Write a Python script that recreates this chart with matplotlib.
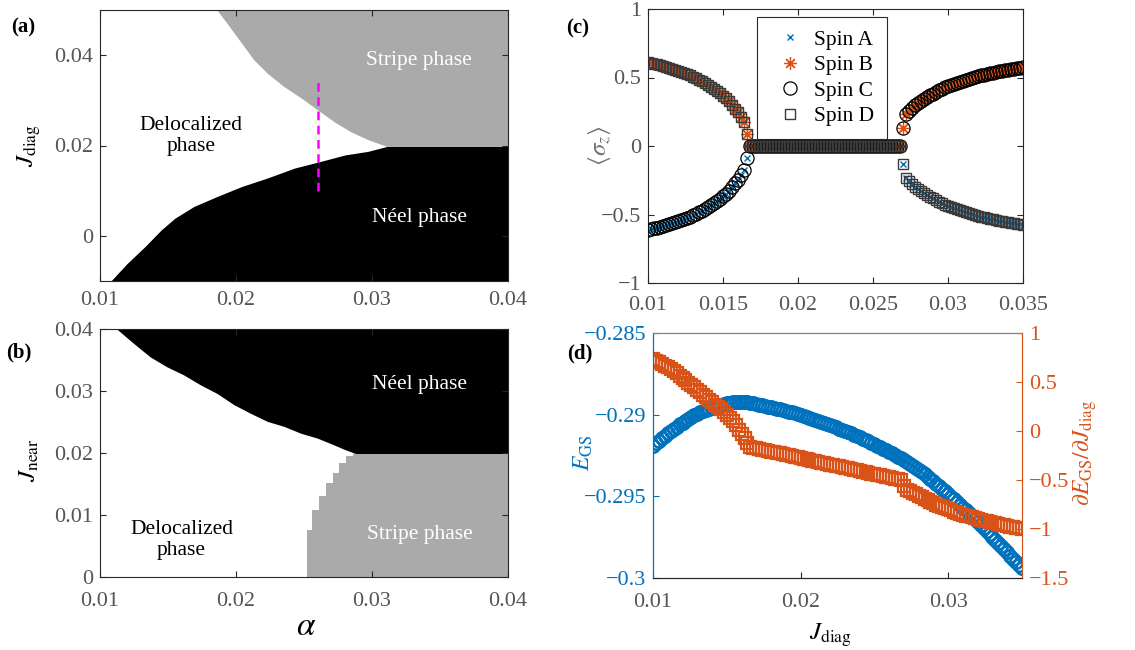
import numpy as np
import matplotlib
matplotlib.use('Agg')
import matplotlib.pyplot as plt

plt.rcParams['font.family'] = ['Liberation Serif', 'DejaVu Serif']
plt.rcParams['mathtext.fontset'] = 'stix'
plt.rcParams['axes.unicode_minus'] = True

# ---------------- data ----------------
# (a) phase diagram alpha vs J_diag
a_neel_alpha = [0.0108, 0.0120, 0.0133, 0.0145, 0.0155, 0.0169, 0.0186, 0.0204, 0.0223, 0.0243,
                0.0260, 0.0280, 0.0297, 0.0311, 0.0400]
a_neel_J = [-0.0100, -0.0061, -0.0024, 0.0013, 0.0039, 0.0065, 0.0087, 0.0109, 0.0128, 0.0150,
            0.0163, 0.0179, 0.0187, 0.0198, 0.0198]
a_stripe_alpha = [0.0186, 0.0195, 0.0204, 0.0213, 0.0223, 0.0235, 0.0248, 0.0260, 0.0272, 0.0284,
                  0.0297, 0.0311, 0.0400]
a_stripe_J = [0.0500, 0.0464, 0.0427, 0.0390, 0.0360, 0.0331, 0.0305, 0.0279, 0.0253, 0.0231,
              0.0213, 0.0198, 0.0198]
cut_alpha = 0.026
cut_J = [0.010, 0.035]

# (b) phase diagram alpha vs J_near
b_neel_alpha = [0.01123, 0.01246, 0.01369, 0.01492, 0.01615, 0.01738, 0.01861, 0.01984, 0.02107,
                0.02230, 0.02352, 0.02475, 0.02598, 0.02721, 0.02795, 0.02881, 0.04000]
b_neel_J = [0.0400, 0.0377, 0.0355, 0.0339, 0.0326, 0.0310, 0.0296, 0.0278, 0.0264,
            0.0251, 0.0243, 0.0232, 0.0224, 0.0213, 0.0206, 0.0199, 0.0199]
b_stripe_J = [0.0, 0.00762, 0.01085, 0.01299, 0.01514, 0.01675, 0.01836, 0.01944, 0.0199]
b_stripe_alpha = [0.0252, 0.0256, 0.0261, 0.0266, 0.0271, 0.0276, 0.0281, 0.0286, 0.0288]

# (c)/(d) scan along J_diag at alpha = 0.026
J_scan = np.round(np.linspace(0.010, 0.035, 126), 4)
sigma_left = [0.613, 0.607, 0.601, 0.595, 0.589, 0.583, 0.577, 0.570, 0.563, 0.556,
              0.549, 0.541, 0.533, 0.524, 0.515, 0.505, 0.495, 0.484, 0.473, 0.461,
              0.448, 0.434, 0.419, 0.403, 0.386, 0.367, 0.347, 0.325, 0.300, 0.273,
              0.245, 0.213, 0.176, 0.090]
sigma_mid = [0.0] * 51
sigma_right = [0.133, 0.232, 0.258, 0.280, 0.299, 0.316, 0.331, 0.345, 0.358, 0.371,
               0.383, 0.397, 0.408, 0.418, 0.428, 0.437, 0.446, 0.454, 0.462, 0.470,
               0.477, 0.484, 0.491, 0.497, 0.503, 0.509, 0.515, 0.520, 0.525, 0.530,
               0.535, 0.539, 0.544, 0.548, 0.552, 0.556, 0.560, 0.564, 0.567, 0.571,
               0.574]
sl = np.array(sigma_left); sm = np.array(sigma_mid); sr = np.array(sigma_right)
spin_A = np.concatenate([-sl, sm, -sr])
spin_B = np.concatenate([sl, sm, sr])
spin_C = np.concatenate([-sl, sm, sr])
spin_D = np.concatenate([sl, sm, -sr])

E_GS = [-0.29190, -0.29174, -0.29159, -0.29143, -0.29128, -0.29114, -0.29100, -0.29086, -0.29073, -0.29060,
        -0.29048, -0.29037, -0.29025, -0.29015, -0.29005, -0.28995, -0.28986, -0.28978, -0.28970, -0.28963,
        -0.28956, -0.28950, -0.28944, -0.28939, -0.28935, -0.28930, -0.28927, -0.28925, -0.28923, -0.28922,
        -0.28922, -0.28923, -0.28925, -0.28928,
        -0.289313, -0.289348, -0.289384, -0.289421, -0.289460, -0.289500, -0.289541, -0.289583, -0.289627, -0.289672,
        -0.289719, -0.289767, -0.289816, -0.289867, -0.289918, -0.289972, -0.290026, -0.290082, -0.290139, -0.290197,
        -0.290257, -0.290318, -0.290381, -0.290444, -0.290509, -0.290576, -0.290643, -0.290712, -0.290782, -0.290854,
        -0.290927, -0.291001, -0.291076, -0.291153, -0.291232, -0.291311, -0.291392, -0.291474, -0.291557, -0.291642,
        -0.291729, -0.291816, -0.291905, -0.291995, -0.292086, -0.292179, -0.292273, -0.292369, -0.292466, -0.292564,
        -0.292663,
        -0.292769, -0.292885, -0.293007, -0.293131, -0.293259, -0.293389, -0.293523, -0.293659, -0.293799, -0.293942,
        -0.294088, -0.294237, -0.294388, -0.294542, -0.294698, -0.294857, -0.295018, -0.295181, -0.295347, -0.295515,
        -0.295684, -0.295856, -0.296029, -0.296205, -0.296382, -0.296560, -0.296741, -0.296923, -0.297106, -0.297292,
        -0.297478, -0.297666, -0.297855, -0.298046, -0.298238, -0.298431, -0.298626, -0.298821, -0.299018, -0.299216,
        -0.299415]
dE_dJ = [0.730, 0.716, 0.701, 0.685, 0.668, 0.650, 0.630, 0.609, 0.587, 0.564,
         0.541, 0.517, 0.493, 0.469, 0.445, 0.420, 0.395, 0.370, 0.345, 0.320,
         0.295, 0.270, 0.245, 0.220, 0.195, 0.168, 0.135, 0.098, 0.058, 0.015,
         -0.030, -0.075, -0.120, -0.160,
         -0.170, -0.177, -0.183, -0.190, -0.196, -0.203, -0.210, -0.216, -0.223, -0.229,
         -0.236, -0.243, -0.249, -0.256, -0.262, -0.269, -0.276, -0.282, -0.289, -0.295,
         -0.302, -0.309, -0.315, -0.322, -0.328, -0.335, -0.342, -0.348, -0.355, -0.361,
         -0.368, -0.375, -0.381, -0.388, -0.394, -0.401, -0.408, -0.414, -0.421, -0.427,
         -0.434, -0.441, -0.447, -0.454, -0.460, -0.467, -0.474, -0.480, -0.487, -0.493,
         -0.500,
         -0.560, -0.600, -0.615, -0.630, -0.645, -0.660, -0.676, -0.692, -0.707, -0.722,
         -0.736, -0.750, -0.763, -0.776, -0.788, -0.800, -0.811, -0.822, -0.833, -0.843,
         -0.853, -0.863, -0.872, -0.881, -0.890, -0.898, -0.906, -0.914, -0.922, -0.929,
         -0.936, -0.943, -0.950, -0.957, -0.963, -0.969, -0.975, -0.981, -0.987, -0.993,
         -0.999]

# tick definitions
ab_xticks = [0.01, 0.02, 0.03, 0.04]
ab_xlabels = ['0.01', '0.02', '0.03', '0.04']
a_yticks = [0.0, 0.02, 0.04]
a_ylabels = ['0', '0.02', '0.04']
b_yticks = [0.0, 0.01, 0.02, 0.03, 0.04]
b_ylabels = ['0', '0.01', '0.02', '0.03', '0.04']
c_xticks = [0.01, 0.015, 0.02, 0.025, 0.03, 0.035]
c_xlabels = ['0.01', '0.015', '0.02', '0.025', '0.03', '0.035']
c_yticks = [-1, -0.5, 0, 0.5, 1]
c_ylabels = ['\u22121', '\u22120.5', '0', '0.5', '1']
d_xticks = [0.01, 0.02, 0.03]
d_xlabels = ['0.01', '0.02', '0.03']
d_yticks = [-0.3, -0.295, -0.29, -0.285]
d_ylabels = ['\u22120.3', '\u22120.295', '\u22120.29', '\u22120.285']
d2_yticks = [-1.5, -1, -0.5, 0, 0.5, 1]
d2_ylabels = ['\u22121.5', '\u22121', '\u22120.5', '0', '0.5', '1']

# ---------------- style ----------------
BLUE = '#0072BD'
ORANGE = '#D95319'
GRAY_PHASE = '#aaaaaa'
TICKC = '#555555'
AXC = '#262626'
FS = 16
PFS = 15.5

fig = plt.figure(figsize=(11.35, 6.5), dpi=100)
W, H = 1135.0, 650.0


def px_axes(l, t, r, b):
    return fig.add_axes([l / W, 1 - b / H, (r - l) / W, (b - t) / H])


def style(ax, xpad, mirror=True):
    for s in ax.spines.values():
        s.set_color(AXC)
        s.set_linewidth(0.8)
    ax.tick_params(direction='in', length=4, width=0.8, color=AXC,
                   labelcolor=TICKC, labelsize=FS, top=mirror, right=mirror)
    ax.tick_params(axis='x', pad=xpad)
    ax.tick_params(axis='y', pad=5)


# ---- (a) ----
ax_a = px_axes(100, 10, 508, 281)
ax_a.set_xlim(0.01, 0.04)
ax_a.set_ylim(-0.01, 0.05)
ax_a.fill_between(a_neel_alpha, -0.01, a_neel_J, color='black', lw=0, zorder=1)
ax_a.fill_between(a_stripe_alpha, a_stripe_J, 0.05, color=GRAY_PHASE, lw=0, zorder=1)
ax_a.plot([cut_alpha, cut_alpha], cut_J, color='#ff00ff', lw=1.8, dashes=(3.5, 2.2), zorder=3)
ax_a.set_xticks(ab_xticks, ab_xlabels)
ax_a.set_yticks(a_yticks, a_ylabels)
style(ax_a, xpad=7)
ax_a.text(0.03346, 0.0389, 'Stripe phase', color='white', fontsize=PFS, ha='center', va='center')
ax_a.text(0.01669, 0.0221, 'Delocalized\nphase', color='black', fontsize=PFS, ha='center',
          va='center', linespacing=1.1)
ax_a.text(0.0335, 0.0040, 'Néel phase', color='white', fontsize=PFS, ha='center', va='center')
ax_a.set_ylabel(r'$J_{\rm diag}$', fontsize=18, color='black')
ax_a.yaxis.set_label_coords(-0.174, 0.50)
ax_a.yaxis.label.set_va('center')

# ---- (b) ----
ax_b = px_axes(100, 329, 508, 577)
ax_b.set_xlim(0.01, 0.04)
ax_b.set_ylim(0.0, 0.04)
ax_b.fill_between(b_neel_alpha, b_neel_J, 0.04, color='black', lw=0, zorder=1)
ax_b.fill_betweenx(b_stripe_J, b_stripe_alpha, 0.04, step='post', color=GRAY_PHASE, lw=0, zorder=1)
ax_b.set_xticks(ab_xticks, ab_xlabels)
ax_b.set_yticks(b_yticks, b_ylabels)
style(ax_b, xpad=11)
ax_b.text(0.0335, 0.0310, 'Néel phase', color='white', fontsize=PFS, ha='center', va='center')
ax_b.text(0.0335, 0.0068, 'Stripe phase', color='white', fontsize=PFS, ha='center', va='center')
ax_b.text(0.0160, 0.0060, 'Delocalized\nphase', color='black', fontsize=PFS, ha='center',
          va='center', linespacing=1.1)
ax_b.set_ylabel(r'$J_{\rm near}$', fontsize=18, color='black')
ax_b.yaxis.set_label_coords(-0.172, 0.47)
ax_b.yaxis.label.set_va('center')
ax_b.set_xlabel(r'$\alpha$', fontsize=24, color='black')
ax_b.xaxis.set_label_coords(0.505, -0.20)
ax_b.xaxis.label.set_va('center')

# ---- (c) ----
ax_c = px_axes(648, 9, 1023, 283)
ax_c.set_xlim(0.01, 0.035)
ax_c.set_ylim(-1, 1)
hA, = ax_c.plot(J_scan, spin_A, ls='none', marker='x', ms=5, mec=BLUE, mew=1.0,
                label='Spin A', zorder=2)
hB, = ax_c.plot(J_scan, spin_B, ls='none', marker=(8, 2, 0), ms=9, mec=ORANGE, mew=0.9,
                label='Spin B', zorder=2)
hC, = ax_c.plot(J_scan, spin_C, ls='none', marker='o', ms=9.5, mfc='none', mec='black', mew=0.9,
                label='Spin C', zorder=3)
hD, = ax_c.plot(J_scan, spin_D, ls='none', marker='s', ms=7.5, mfc='none', mec='#3a3a3a', mew=1.0,
                label='Spin D', zorder=3)
ax_c.set_xticks(c_xticks, c_xlabels)
ax_c.set_yticks(c_yticks, c_ylabels)
style(ax_c, xpad=9)
leg = ax_c.legend(handles=[hA, hB, hC, hD], loc='upper left',
                  bbox_to_anchor=((757 - 648) / 375.0, (283 - 17) / 274.0),
                  frameon=True, fancybox=False, edgecolor=AXC, framealpha=1, fontsize=15.5,
                  handlelength=1.85, handletextpad=0.2, labelspacing=0.25, borderpad=0.6,
                  borderaxespad=0)
leg.get_frame().set_linewidth(0.8)
ax_c.set_ylabel(r'$\langle\sigma_z\rangle$', fontsize=18, color='#707070')
ax_c.yaxis.set_label_coords(-0.128, 0.50)
ax_c.yaxis.label.set_va('center')

# ---- (d) ----
ax_d = px_axes(653, 333, 1022, 578)
ax_d2 = ax_d.twinx()
ax_d.set_xlim(0.01, 0.035)
ax_d.set_ylim(-0.3, -0.285)
ax_d2.set_ylim(-1.5, 1)
ax_d.plot(J_scan, E_GS, ls='none', marker='o', ms=9, mfc='none', mec=BLUE, mew=1.8, zorder=2)
ax_d2.plot(J_scan, dE_dJ, ls='none', marker='s', ms=8, mfc='none', mec=ORANGE, mew=1.6, zorder=2)
ax_d.set_xticks(d_xticks, d_xlabels)
ax_d.set_yticks(d_yticks, d_ylabels)
ax_d2.set_yticks(d2_yticks, d2_ylabels)
for ax in (ax_d, ax_d2):
    for s in ax.spines.values():
        s.set_color(AXC)
        s.set_linewidth(0.8)
ax_d.spines['top'].set_color('#808080')
ax_d2.spines['top'].set_color('#808080')
ax_d.spines['left'].set_color(BLUE)
ax_d2.spines['left'].set_color(BLUE)
ax_d2.spines['right'].set_color(ORANGE)
ax_d.spines['right'].set_color(ORANGE)
ax_d.tick_params(axis='x', direction='in', length=4, width=0.8, color=AXC, labelcolor=TICKC,
                 labelsize=FS, top=False, pad=11)
ax_d.tick_params(axis='y', direction='in', length=4, width=0.8, color=BLUE, labelcolor=BLUE,
                 labelsize=FS, right=False, pad=5)
ax_d2.tick_params(axis='y', direction='in', length=4, width=0.8, color=ORANGE, labelcolor=ORANGE,
                  labelsize=FS, left=False, pad=5)
ax_d.set_ylabel(r'$E_{\rm GS}$', fontsize=17, color=BLUE)
ax_d.yaxis.set_label_coords(-0.190, 0.51)
ax_d.yaxis.label.set_va('center')
ax_d2.set_ylabel(r'$\partial E_{\rm GS}/\partial J_{\rm diag}$', fontsize=17, color=ORANGE)
ax_d2.yaxis.set_label_coords(1.170, 0.51)
ax_d2.yaxis.label.set_va('center')
ax_d.set_xlabel(r'$J_{\rm diag}$', fontsize=18, color='black')
ax_d.xaxis.set_label_coords(0.48, -0.235)
ax_d.xaxis.label.set_va('center')

# panel labels
for lbl, x, y in [('(a)', 11, 27), ('(b)', 6, 352), ('(c)', 566, 28), ('(d)', 567, 353)]:
    fig.text(x / W, 1 - y / H, lbl, fontsize=15, fontweight='bold', ha='left', va='center')

fig.savefig('out.png', dpi=100)
